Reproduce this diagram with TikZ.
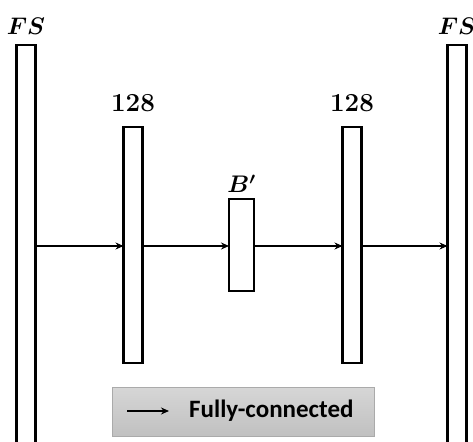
\documentclass[tikz,border=0pt]{standalone}
\usepackage{fix-cm}
\usepackage{amsmath,amssymb,amsbsy}
\usepackage{fontspec}
\newfontfamily\legendfont{Carlito}
\usetikzlibrary{arrows.meta,positioning}
\definecolor{boxtop}{RGB}{214,214,214}
\definecolor{boxbot}{RGB}{192,192,192}
\definecolor{boxline}{RGB}{170,170,170}

\begin{document}
\begin{tikzpicture}[
  x=1pt,y=-1pt,
  layer/.style={draw,line width=2.6pt,fill=white,minimum width=19pt,anchor=north,
                inner sep=0pt,outer sep=0pt},
  lab/.style={font=\fontsize{24}{28}\selectfont,inner sep=0pt},
  size/.style={font=\fontsize{26}{30}\selectfont\bfseries,inner sep=0pt},
  fc/.style={-{Stealth[length=8pt,width=7pt]},line width=1.8pt},
  legendbox/.style={draw=boxline,line width=1pt,top color=boxtop,bottom color=boxbot,
                    minimum width=262pt,minimum height=49pt,inner sep=0pt}
]
\useasboundingbox (0,0) rectangle (473,441);

% Layers
\node[layer,minimum height=430pt] (in)  at (26,45)  {};
\node[layer,minimum height=236pt] (h1)  at (133,127) {};
\node[layer,minimum width=25pt,minimum height=92pt] (z) at (241.5,199) {};
\node[layer,minimum height=236pt] (h2)  at (352,127) {};
\node[layer,minimum height=430pt] (out) at (457,45)  {};

% Sizes
\node[lab,above=10pt of in]  {$\boldsymbol{FS}$};
\node[size,above=15pt of h1] {128};
\node[lab,above=6pt of z]    {$\boldsymbol{B'}$};
\node[size,above=15pt of h2] {128};
\node[lab,above=10pt of out] {$\boldsymbol{FS}$};

% Fully-connected links
\coordinate (ay) at (0,246);
\draw[fc] (in.east |- ay) -- (h1.west |- ay);
\draw[fc] (h1.east |- ay) -- (z.west |- ay);
\draw[fc] (z.east |- ay)  -- (h2.west |- ay);
\draw[fc] (h2.east |- ay) -- (out.west |- ay);

% Legend
\node[legendbox] (legend) at (243.5,412) {};
\coordinate (la) at (127,411);
\coordinate (lb) at (169,411);
\draw[fc] (la) -- (lb);
\node[anchor=west,inner sep=0pt,font=\legendfont\bfseries\fontsize{25}{29}\selectfont]
  (fclab) at (189,411) {Fully-connected};

\end{tikzpicture}
\end{document}
